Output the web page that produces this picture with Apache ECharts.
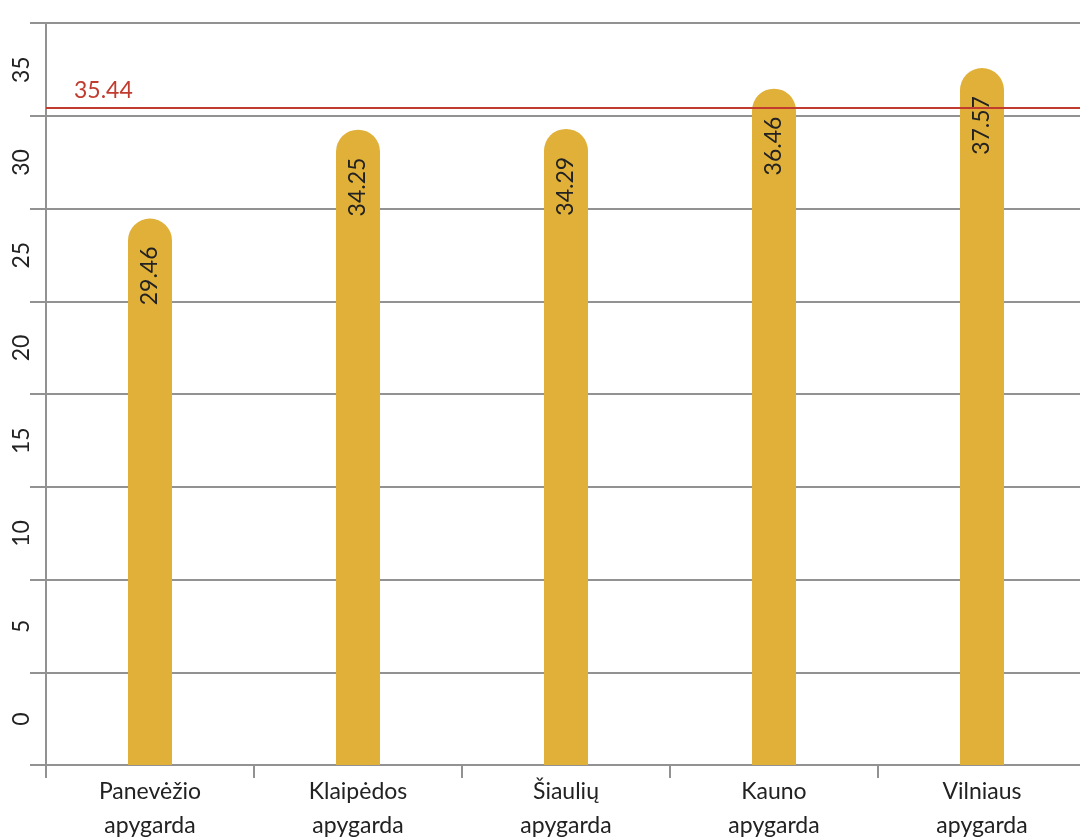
<!DOCTYPE html>
<html>
<head>
<meta charset="utf-8">
<script src="https://cdn.jsdelivr.net/npm/echarts@6/dist/echarts.min.js"></script>
<style>
html,body{margin:0;padding:0;background:#fff;}
#chart{width:1080px;height:838px;}
</style>
</head>
<body>
<div id="chart"></div>
<script>
const categories = ['Panevėžio\napygarda', 'Klaipėdos\napygarda', 'Šiaulių\napygarda', 'Kauno\napygarda', 'Vilniaus\napygarda'];
const values = [29.46, 34.25, 34.29, 36.46, 37.57];
const averageValue = 35.44;
const yTicks = [0, 5, 10, 15, 20, 25, 30, 35, 40];

const FONT = 'Lato';
const chart = echarts.init(document.getElementById('chart'), null, {renderer: 'canvas'});
chart.setOption({
  animation: false,
  backgroundColor: '#ffffff',
  grid: {left: 46, width: 1040, top: 23, bottom: 73, containLabel: false, outerBoundsMode: 'none'},
  xAxis: {
    type: 'category',
    data: categories,
    axisLine: {show: true, lineStyle: {color: '#929292', width: 2}},
    axisTick: {show: true, length: 13, lineStyle: {color: '#929292', width: 2}},
    axisLabel: {color: '#222', fontFamily: FONT, fontSize: 23, lineHeight: 34, margin: 10}
  },
  yAxis: {
    type: 'value',
    min: yTicks[0],
    max: yTicks[yTicks.length - 1],
    interval: 5,
    axisLine: {show: true, lineStyle: {color: '#929292', width: 2}},
    axisTick: {show: true, length: 16, lineStyle: {color: '#929292', width: 2}},
    splitLine: {show: true, lineStyle: {color: '#929292', width: 2}},
    axisLabel: {
      color: '#222', fontFamily: FONT, fontSize: 23,
      rotate: 90, align: 'center', verticalAlign: 'bottom',
      padding: [0, 0, 0, 92], margin: 13,
      formatter: v => (v === yTicks[yTicks.length - 1] ? '' : String(v))
    }
  },
  series: [{
    type: 'bar',
    data: values,
    barWidth: 44,
    itemStyle: {color: '#E0B038', borderRadius: [22, 22, 0, 0]},
    label: {
      show: true, position: 'insideTop', rotate: 90,
      align: 'right', verticalAlign: 'middle', distance: 28,
      color: '#222', fontFamily: FONT, fontSize: 23,
      formatter: p => p.value.toFixed(2)
    },
    markLine: {
      silent: true, symbol: 'none',
      lineStyle: {color: '#C23B2F', width: 2, type: 'solid'},
      label: {show: true, position: 'insideStartTop', formatter: String(averageValue),
        color: '#C23B2F', fontFamily: FONT, fontSize: 23, distance: [28, 6]},
      data: [{yAxis: averageValue}]
    }
  }]
});
</script>
</body>
</html>
